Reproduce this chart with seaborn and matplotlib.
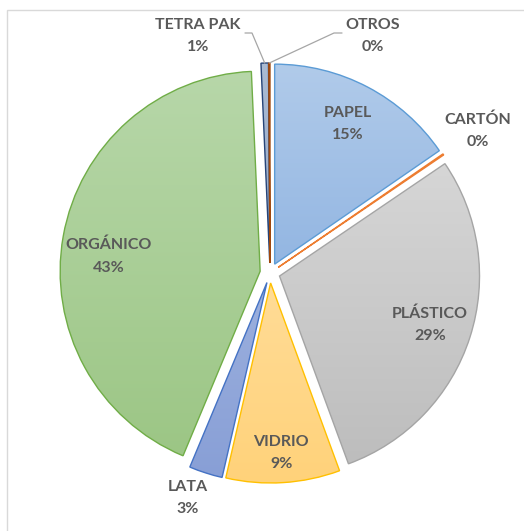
import numpy as np
import matplotlib
matplotlib.use("Agg")
import matplotlib.pyplot as plt
import seaborn as sns
from matplotlib.colors import to_rgb
from matplotlib.patches import Rectangle

# datos
categorias = ['PAPEL', 'CARTÓN', 'PLÁSTICO', 'VIDRIO', 'LATA', 'ORGÁNICO', 'TETRA PAK', 'OTROS']
porcentajes = [15.4, 0.1, 28.9, 9.2, 2.7, 43.0, 0.6, 0.1]

# colores: degradado arriba -> abajo y borde
color_arriba = ['#b1cbea', '#f4a46e', '#d6d6d6', '#ffdc97', '#9cb0de', '#b7d7a9', '#aabbd3', '#b8643a']
color_abajo = ['#93b6e2', '#ed7d31', '#bdbdbd', '#ffd27a', '#889fd6', '#9cc685', '#94a8c8', '#9e480e']
color_borde = ['#5b9bd5', '#ed7d31', '#a5a5a5', '#ffc000', '#4472c4', '#70ad47', '#264478', '#9e480e']

# distancia y giro (grados) de cada etiqueta respecto al centro de su porcion
dist_etiqueta = [0.79, 1.21, 0.79, 0.85, 1.15, 0.76, None, None]
giro_etiqueta = [0, 0, 0, 0, -2.4, 4.4, 0, 0]

sns.set_theme(style='white')
plt.rcParams['font.family'] = ['Lato', 'DejaVu Sans']

fig = plt.figure(figsize=(5.24, 5.31), dpi=100)
ax = fig.add_axes([0, 0, 1, 1])

wedges, _ = ax.pie(porcentajes, startangle=90, counterclock=False,
                   explode=[0.05] * len(porcentajes), radius=1,
                   wedgeprops=dict(linewidth=1.0))

grad = np.linspace(0, 1, 256)[:, None, None]
for w, c1, c2, ce in zip(wedges, color_arriba, color_abajo, color_borde):
    w.set_facecolor('none')
    w.set_edgecolor(ce)
    w.set_zorder(2)
    bb = w.get_path().get_extents()
    img = (1 - grad) * np.array(to_rgb(c1)) + grad * np.array(to_rgb(c2))
    im = ax.imshow(img, extent=(bb.x0, bb.x1, bb.y0, bb.y1), origin='upper',
                   aspect='auto', interpolation='bilinear', zorder=1)
    im.set_clip_path(w)

estilo = dict(fontsize=11.5, fontweight='bold', color='#595959', ha='center',
              va='center', linespacing=1.75, multialignment='center')

for w, cat, p, d, g in zip(wedges, categorias, porcentajes, dist_etiqueta, giro_etiqueta):
    texto = f"{cat}\n{round(p)}%"
    ang = np.deg2rad((w.theta1 + w.theta2) / 2 + g)
    cx, cy = w.center
    if d is not None:
        ax.text(cx + d * np.cos(ang), cy + d * np.sin(ang), texto, **estilo)
    else:
        # etiquetas con linea guia
        px, py = cx + np.cos(ang), cy + np.sin(ang)
        if cat == 'TETRA PAK':
            tx, ty = -0.36, 1.185
            ax.plot([px, -0.09, -0.125], [py, 1.2, 1.2], color='#a6a6a6', lw=0.9, zorder=3)
        else:
            tx, ty = 0.515, 1.185
            ax.plot([px, 0.32, 0.36], [py, 1.2, 1.2], color='#a6a6a6', lw=0.9, zorder=3)
        ax.text(tx, ty, texto, **estilo)

ax.set_xlim(-1.35, 1.27)
ax.set_ylim(-1.29, 1.365)
ax.axis('off')

fig.add_artist(Rectangle((7 / 524, -0.05), 1.1, 1 - 10 / 531 + 0.05,
                         transform=fig.transFigure, fill=False,
                         edgecolor='#d9d9d9', lw=1))

fig.savefig('out.png', dpi=100)
